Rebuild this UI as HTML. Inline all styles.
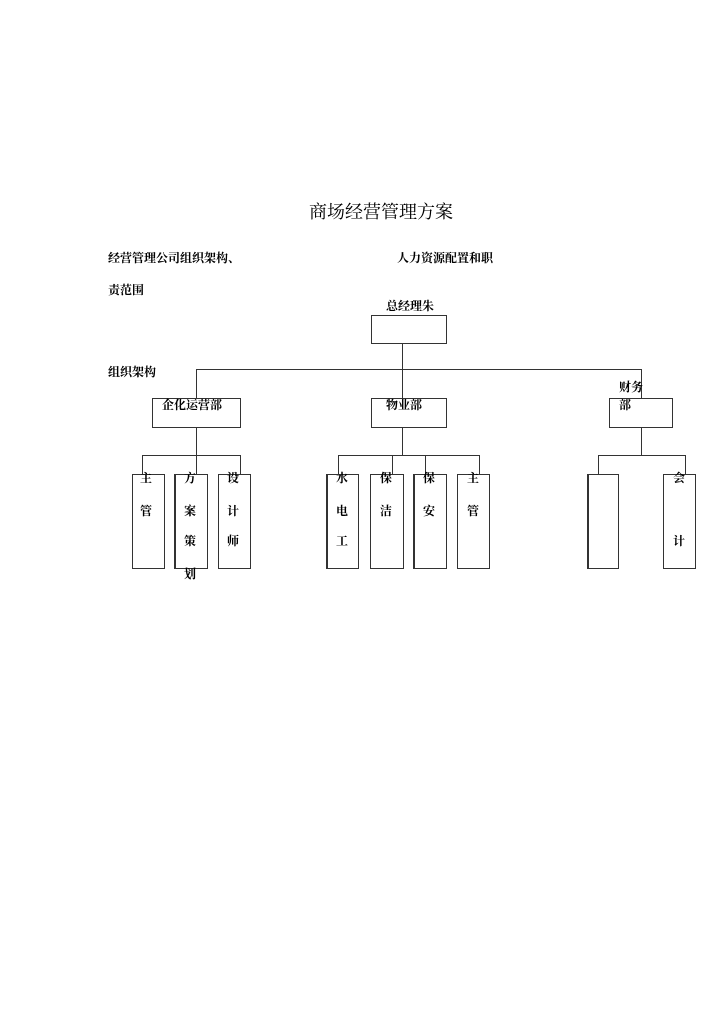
<!DOCTYPE html><html><head><meta charset="utf-8"><style>
body{margin:0;width:720px;height:1018px;background:#fff;position:relative;font-family:"Liberation Serif","Noto Serif CJK SC",serif;color:#000}
.t{position:absolute;font-size:12px;font-weight:bold;white-space:nowrap;line-height:1}
.b{position:absolute;border:1.3px solid #333;box-sizing:border-box}
.l{position:absolute;background:#333}
.v{position:absolute;font-size:12px;font-weight:bold;line-height:1}
</style></head><body>
<div class="t" style="left:309px;top:203px;font-size:18px;font-weight:normal">商场经营管理方案</div>
<div class="t" style="left:108px;top:252px">经营管理公司组织架构、</div>
<div class="t" style="left:397px;top:252px">人力资源配置和职</div>
<div class="t" style="left:108px;top:284px">责范围</div>
<div class="t" style="left:108px;top:366px">组织架构</div>
<div class="t" style="left:386px;top:300px">总经理朱</div>
<div class="b" style="left:371px;top:315px;width:76px;height:29px"></div>
<div class="l" style="left:402px;top:343px;width:1px;height:55px"></div>
<div class="l" style="left:196px;top:369px;width:446px;height:1px"></div>
<div class="l" style="left:196px;top:369px;width:1px;height:29px"></div>
<div class="l" style="left:641px;top:369px;width:1px;height:29px"></div>
<div class="b" style="left:152px;top:398px;width:89px;height:30px"></div>
<div class="t" style="left:162px;top:399px">企化运营部</div>
<div class="b" style="left:371px;top:398px;width:76px;height:30px"></div>
<div class="t" style="left:386px;top:399px">物业部</div>
<div class="b" style="left:609px;top:398px;width:64px;height:30px"></div>
<div class="t" style="left:619px;top:381px">财务</div>
<div class="t" style="left:619px;top:399px">部</div>
<div class="l" style="left:196px;top:427px;width:1px;height:48px"></div>
<div class="l" style="left:402px;top:427px;width:1px;height:28px"></div>
<div class="l" style="left:641px;top:427px;width:1px;height:28px"></div>
<div class="l" style="left:142px;top:455px;width:99px;height:1px"></div>
<div class="l" style="left:338px;top:455px;width:141px;height:1px"></div>
<div class="l" style="left:598px;top:455px;width:88px;height:1px"></div>
<div class="l" style="left:142px;top:455px;width:1px;height:19px"></div>
<div class="l" style="left:240px;top:455px;width:1px;height:19px"></div>
<div class="l" style="left:338px;top:455px;width:1px;height:19px"></div>
<div class="l" style="left:392px;top:455px;width:1px;height:19px"></div>
<div class="l" style="left:425px;top:455px;width:1px;height:19px"></div>
<div class="l" style="left:479px;top:455px;width:1px;height:19px"></div>
<div class="l" style="left:598px;top:455px;width:1px;height:19px"></div>
<div class="l" style="left:685px;top:455px;width:1px;height:19px"></div>
<div class="b" style="left:132px;top:474px;width:33px;height:95px"></div>
<div class="b" style="left:174px;top:474px;width:34px;height:95px;border-left-width:2px"></div>
<div class="b" style="left:218px;top:474px;width:33px;height:95px"></div>
<div class="b" style="left:326px;top:474px;width:33px;height:95px;border-left-width:2px"></div>
<div class="b" style="left:370px;top:474px;width:34px;height:95px"></div>
<div class="b" style="left:413px;top:474px;width:34px;height:95px;border-left-width:2px"></div>
<div class="b" style="left:457px;top:474px;width:33px;height:95px"></div>
<div class="b" style="left:587px;top:474px;width:32px;height:95px;border-left-width:2px"></div>
<div class="b" style="left:663px;top:474px;width:33px;height:95px"></div>
<div class="v" style="left:140px;top:472px">主</div><div class="v" style="left:140px;top:505px">管</div>
<div class="v" style="left:184px;top:472px">方</div><div class="v" style="left:184px;top:505px">案</div><div class="v" style="left:184px;top:535px">策</div><div class="v" style="left:184px;top:568px">划</div>
<div class="v" style="left:227px;top:472px">设</div><div class="v" style="left:227px;top:505px">计</div><div class="v" style="left:227px;top:535px">师</div>
<div class="v" style="left:336px;top:472px">水</div><div class="v" style="left:336px;top:505px">电</div><div class="v" style="left:336px;top:535px">工</div>
<div class="v" style="left:380px;top:472px">保</div><div class="v" style="left:380px;top:505px">洁</div>
<div class="v" style="left:423px;top:472px">保</div><div class="v" style="left:423px;top:505px">安</div>
<div class="v" style="left:467px;top:472px">主</div><div class="v" style="left:467px;top:505px">管</div>
<div class="v" style="left:673px;top:472px">会</div><div class="v" style="left:673px;top:535px">计</div>
</body></html>
